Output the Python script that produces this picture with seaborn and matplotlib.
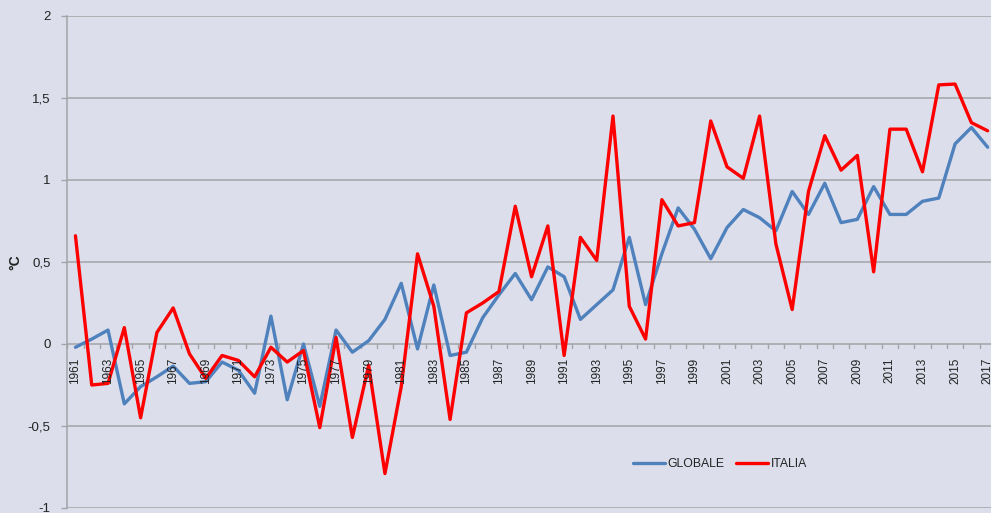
import matplotlib
matplotlib.use("Agg")
import matplotlib.pyplot as plt
import matplotlib.ticker as mticker
import numpy as np
import pandas as pd
import seaborn as sns

# Temperature anomalies (°C), 1961-2017
years = list(range(1961, 2018))
globale = [
    -0.02, 0.03, 0.085, -0.365, -0.26, -0.20, -0.135, -0.24, -0.23, -0.11,
    -0.16, -0.30, 0.17, -0.34, 0.00, -0.38, 0.085, -0.05, 0.02, 0.15,
    0.37, -0.03, 0.36, -0.07, -0.05, 0.16, 0.30, 0.43, 0.27, 0.47,
    0.41, 0.15, 0.24, 0.33, 0.65, 0.24, 0.55, 0.83, 0.70, 0.52,
    0.71, 0.82, 0.77, 0.69, 0.93, 0.79, 0.98, 0.74, 0.76, 0.96,
    0.79, 0.79, 0.87, 0.89, 1.22, 1.32, 1.20,
]
italia = [
    0.66, -0.25, -0.24, 0.10, -0.45, 0.07, 0.22, -0.06, -0.21, -0.07,
    -0.10, -0.20, -0.02, -0.11, -0.04, -0.51, 0.04, -0.57, -0.13, -0.79,
    -0.26, 0.55, 0.23, -0.46, 0.19, 0.25, 0.32, 0.84, 0.41, 0.72,
    -0.07, 0.65, 0.51, 1.39, 0.23, 0.03, 0.88, 0.72, 0.74, 1.36,
    1.08, 1.01, 1.39, 0.61, 0.21, 0.93, 1.27, 1.06, 1.15, 0.44,
    1.31, 1.31, 1.05, 1.58, 1.585, 1.35, 1.30,
]
series_names = ["GLOBALE", "ITALIA"]
y_ticks = [-1, -0.5, 0, 0.5, 1, 1.5, 2]

df = pd.DataFrame({
    "anno": years * 2,
    "valore": globale + italia,
    "serie": [series_names[0]] * len(years) + [series_names[1]] * len(years),
})

bg = "#dcdfeb"
grid_c = "#a3a3a8"
sns.set_theme(style="white")
plt.rcParams["font.family"] = ["Liberation Sans", "DejaVu Sans"]

fig = plt.figure(figsize=(9.91, 5.13), dpi=100)
fig.patch.set_facecolor(bg)
W, H = 991, 513
left, right, top, bottom = 67.3, 995.8, 16, 508
ax = fig.add_axes([left / W, (H - bottom) / H, (right - left) / W, (bottom - top) / H])
ax.set_facecolor(bg)

sns.lineplot(
    data=df, x="anno", y="valore", hue="serie", ax=ax,
    palette={"GLOBALE": "#4f81bd", "ITALIA": "#ff0000"},
    linewidth=2.4, legend=False, zorder=3,
)

ax.set_xlim(1960.5, 2017.5)
ax.set_ylim(-1, 2)
ax.set_yticks(y_ticks)
ax.yaxis.set_major_formatter(
    mticker.FuncFormatter(lambda v, p: f"{v:g}".replace(".", ","))
)
for yv in y_ticks:
    ax.axhline(yv, color=grid_c, linewidth=1.1, zorder=1)

for s in ["top", "right", "bottom"]:
    ax.spines[s].set_visible(False)
ax.spines["left"].set_color(grid_c)
ax.spines["left"].set_linewidth(1.1)

ax.tick_params(axis="y", which="major", length=4, width=1, color=grid_c,
               labelsize=9.5, labelcolor="#222222", pad=8, left=True)
ax.set_ylabel("°C", fontsize=10, fontweight="bold", color="#222222")
ax.yaxis.set_label_coords((22 - left) / (right - left), 0.5)

# Category axis along y = 0: labels every other year, ticks between categories
ax.set_xticks([])
for y in years[::2]:
    ax.text(y, -0.085, str(y), rotation=90, ha="center", va="top",
            fontsize=8.5, color="#222222", zorder=4)
for b in np.arange(1960.5, 2018.5, 1.0):
    ax.plot([b, b], [0, -0.022], color=grid_c, linewidth=1, zorder=2,
            clip_on=False)

# Legend drawn without a frame, lower right
handles = [
    plt.Line2D([], [], color="#4f81bd", linewidth=2.4),
    plt.Line2D([], [], color="#ff0000", linewidth=2.4),
]
leg = fig.legend(handles, series_names, loc="center left",
                 bbox_to_anchor=(628 / W, (H - 464) / H), ncol=2, frameon=False,
                 fontsize=8.8, handlelength=2.6, handletextpad=0.2,
                 columnspacing=1.0, borderaxespad=0)
for t in leg.get_texts():
    t.set_color("#222222")

fig.savefig("out.png", dpi=100, facecolor=bg)
